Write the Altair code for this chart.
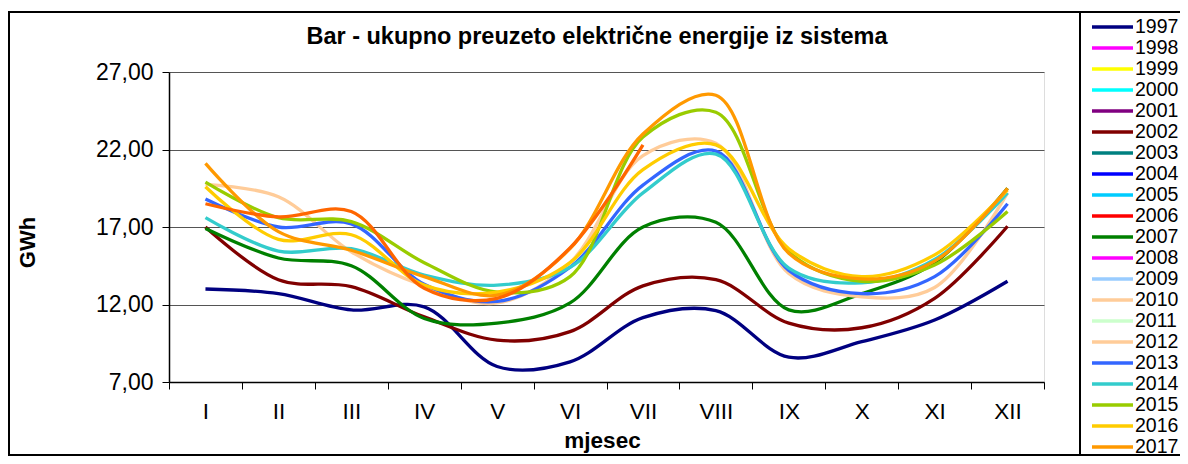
import altair as alt
import pandas as pd

months = ["I", "II", "III", "IV", "V", "VI", "VII", "VIII", "IX", "X", "XI", "XII"]

legend_years = [str(y) for y in range(1997, 2018)]
all_years = legend_years + ["2018"]
year_colors = ["#000080", "#FF00FF", "#FFFF00", "#00FFFF", "#800080", "#800000",
               "#008080", "#0000FF", "#00CCFF", "#FF0000", "#008000", "#FF00FF",
               "#99CCFF", "#FFCC99", "#CCFFCC", "#FFCC99", "#3366FF", "#33CCCC",
               "#99CC00", "#FFCC00", "#FF9900", "#FF6600"]

v1997 = [13.0, 12.7, 11.65, 11.85, 8.0, 8.3, 11.15, 11.6, 8.6, 9.6, 11.0, 13.5]
v2002 = [17.0, 13.6, 13.15, 11.2, 9.7, 10.25, 13.2, 13.6, 10.8, 10.5, 12.4, 17.05]
v2007 = [16.9, 15.0, 14.5, 11.1, 10.8, 12.1, 17.0, 17.3, 11.65, 12.7, 14.7, 19.5]
v2012 = [19.75, 18.95, 15.4, 13.2, 12.1, 14.7, 21.6, 22.4, 14.0, 12.5, 13.1, 19.2]
v2013 = [18.8, 17.0, 17.2, 13.3, 12.2, 14.4, 19.7, 21.9, 14.2, 12.7, 13.8, 18.5]
v2014 = [17.6, 15.45, 15.6, 13.9, 13.25, 14.4, 19.2, 21.7, 14.35, 13.4, 14.9, 19.2]
v2015 = [19.9, 17.6, 17.35, 14.7, 12.8, 13.8, 22.8, 24.4, 15.4, 13.5, 14.55, 18.0]
v2016 = [19.6, 16.2, 16.5, 13.25, 12.8, 14.7, 20.7, 22.3, 15.6, 13.8, 15.2, 19.4]
v2017 = [21.1, 16.7, 15.5, 13.8, 12.6, 15.6, 23.0, 25.5, 15.3, 13.65, 14.8, 19.5]
v2018 = [18.5, 17.65, 18.0, 13.05, 12.4, 15.65, 22.3]

series = {
    "1997": v1997, "2002": v2002, "2007": v2007, "2012": v2012,
    "2013": v2013, "2014": v2014, "2015": v2015, "2016": v2016,
    "2017": v2017, "2018": v2018,
}

rows = []
for yr, vals in series.items():
    for m, v in zip(months, vals):
        rows.append({"godina": yr, "mjesec": m, "GWh": v})
df = pd.DataFrame(rows)

FONT = "Liberation Sans"
title_text = "Bar - ukupno preuzeto električne energije iz sistema"

lines = alt.Chart(df).mark_line(interpolate="catmull-rom", strokeWidth=3.3).encode(
    x=alt.X("mjesec:N", sort=months,
            scale=alt.Scale(type="band", paddingInner=0, paddingOuter=0),
            axis=alt.Axis(title="mjesec", labelAngle=0, labelFontSize=22.5, labelFont=FONT,
                          labelColor="black", labelPadding=11, tickBand="extent",
                          tickSize=7, tickColor="black", domainColor="black", domainWidth=1.5,
                          grid=False, titleFont=FONT, titleFontSize=22.5, titleFontWeight="bold",
                          titleColor="black", titleX=433, titleY=58, titleBaseline="middle",
                          titleAnchor="middle", titleAlign="center")),
    y=alt.Y("GWh:Q", scale=alt.Scale(domain=[7, 27], nice=False, zero=False),
            axis=alt.Axis(title="GWh", values=[7, 12, 17, 22, 27],
                          labelExpr="replace(format(datum.value, '.2f'), '.', ',')",
                          labelFontSize=23, labelFont=FONT, labelColor="black",
                          labelPadding=9, tickSize=7, tickColor="black",
                          domainColor="black", domainWidth=1.5,
                          grid=True, gridColor="#555555", gridWidth=1,
                          titleFont=FONT, titleFontSize=22, titleFontWeight="bold",
                          titleColor="black", titleX=-130, titleY=170,
                          titleAlign="center", titleBaseline="bottom")),
    color=alt.Color("godina:N",
                    scale=alt.Scale(domain=all_years, range=year_colors),
                    legend=alt.Legend(values=legend_years, title=None, orient="none",
                                      legendX=921, legendY=-54, padding=0,
                                      labelFont=FONT, labelFontSize=19.5, labelColor="black",
                                      symbolType="stroke", symbolSize=1681,
                                      symbolStrokeWidth=3.5, symbolOpacity=1,
                                      clipHeight=18, rowPadding=1, labelOffset=0)),
)

one = pd.DataFrame({"k": [0]})
frame = alt.Chart(one).mark_rect(filled=False, stroke="black", strokeWidth=2).encode(
    x=alt.value(-160), x2=alt.value(911), y=alt.value(-60), y2=alt.value(383)
)
legend_box = alt.Chart(one).mark_rect(filled=False, stroke="black", strokeWidth=2).encode(
    x=alt.value(911), x2=alt.value(1030), y=alt.value(-60), y2=alt.value(383)
)
title = alt.Chart(pd.DataFrame({"t": [title_text]})).mark_text(
    font=FONT, fontSize=23.5, fontWeight="bold", color="black",
    align="center", baseline="middle"
).encode(text="t:N", x=alt.value(428), y=alt.value(-35))

chart = alt.layer(frame, legend_box, title, lines).properties(
    width=875, height=310,
    autosize=alt.AutoSizeParams(type="none"),
    padding={"left": 161, "top": 64, "right": 136, "bottom": 74},
).configure_view(stroke=None).configure(background="white")

chart.save("out.html", embed_options={"renderer": "svg", "actions": False})
